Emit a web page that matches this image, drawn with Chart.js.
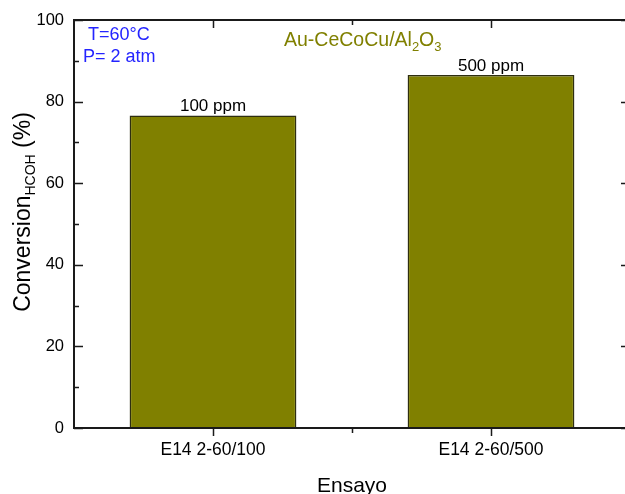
<!DOCTYPE html>
<html>
<head>
<meta charset="utf-8">
<script src="https://cdn.jsdelivr.net/npm/chart.js@4.4.1/dist/chart.umd.min.js"></script>
<style>
  html, body { margin: 0; padding: 0; background: #fff; overflow: hidden; }
  #wrap { width: 625px; height: 494px; overflow: hidden; position: relative; }
  canvas { display: block; }
</style>
</head>
<body>
<div id="wrap"><canvas id="c" width="640" height="494"></canvas></div>
<script>
// Data
const categories = ['E14 2-60/100', 'E14 2-60/500'];
const conversion = [76.6, 86.5];
const barLabels = ['100 ppm', '500 ppm'];
const yMajorTicks = [0, 20, 40, 60, 80, 100];
const yMinorTicks = [10, 30, 50, 70, 90];

const FONT = '"Liberation Sans", Arial, Helvetica, sans-serif';
const OLIVE = '#808000';
const BLUE = '#2424ff';
const AXIS = '#1a1a1a';

// Draws a run of text pieces (normal / subscript) starting at x,y (baseline)
function drawRuns(ctx, runs, x, y) {
  let cx = x;
  for (const r of runs) {
    ctx.font = r.size + 'px ' + FONT;
    ctx.fillText(r.text, cx, y + (r.dy || 0));
    cx += ctx.measureText(r.text).width;
  }
  return cx;
}
function runsWidth(ctx, runs) {
  let w = 0;
  for (const r of runs) {
    ctx.font = r.size + 'px ' + FONT;
    w += ctx.measureText(r.text).width;
  }
  return w;
}

const framePlugin = {
  id: 'frame',
  afterDraw(chart) {
    const { ctx, chartArea: a, scales } = chart;
    const xs = scales.x, ys = scales.y;
    ctx.save();

    // axis frame
    ctx.strokeStyle = AXIS;
    ctx.lineWidth = 2;
    ctx.beginPath();
    ctx.moveTo(a.left, a.top); ctx.lineTo(a.right, a.top);
    ctx.moveTo(a.left, a.bottom); ctx.lineTo(a.right, a.bottom);
    ctx.moveTo(a.left, a.top - 1); ctx.lineTo(a.left, a.bottom + 1);
    ctx.moveTo(a.right, a.top - 1); ctx.lineTo(a.right, a.bottom + 1);
    ctx.stroke();

    // y ticks, inward on both sides
    ctx.lineWidth = 1.5;
    ctx.beginPath();
    for (const v of yMajorTicks) {
      const py = Math.round(ys.getPixelForValue(v)) + 0.5;
      ctx.moveTo(a.left, py); ctx.lineTo(a.left + 9, py);
      ctx.moveTo(a.right, py); ctx.lineTo(a.right - 9, py);
    }
    for (const v of yMinorTicks) {
      const py = Math.round(ys.getPixelForValue(v)) + 0.5;
      ctx.moveTo(a.left, py); ctx.lineTo(a.left + 5, py);
      ctx.moveTo(a.right, py); ctx.lineTo(a.right - 5, py);
    }
    // x ticks: outward at bottom, inward at top
    const centers = categories.map((_, i) => xs.getPixelForValue(i));
    const bounds = [];
    for (let i = 0; i < centers.length - 1; i++) bounds.push((centers[i] + centers[i + 1]) / 2);
    for (const cx of centers) {
      const px = Math.round(cx) + 0.5;
      ctx.moveTo(px, a.bottom); ctx.lineTo(px, a.bottom + 8);
      ctx.moveTo(px, a.top); ctx.lineTo(px, a.top + 8);
    }
    for (const bx of bounds) {
      const px = Math.round(bx) + 0.5;
      ctx.moveTo(px, a.bottom); ctx.lineTo(px, a.bottom + 5);
      ctx.moveTo(px, a.top); ctx.lineTo(px, a.top + 5);
    }
    ctx.stroke();

    // value labels above the bars
    ctx.fillStyle = '#000';
    ctx.textAlign = 'center';
    ctx.textBaseline = 'alphabetic';
    ctx.font = '17px ' + FONT;
    chart.getDatasetMeta(0).data.forEach((bar, i) => {
      ctx.fillText(barLabels[i], bar.x, bar.y - 4);
    });

    // x axis title
    ctx.font = '21px ' + FONT;
    ctx.fillText('Ensayo', (a.left + a.right) / 2, 492);

    // y axis title with subscript, rotated
    ctx.textAlign = 'left';
    const yRuns = [
      { text: 'Conversion', size: 23 },
      { text: 'HCOH', size: 14, dy: 5 },
      { text: ' (%)', size: 23 }
    ];
    const w = runsWidth(ctx, yRuns);
    ctx.save();
    ctx.translate(30, 212);
    ctx.rotate(-Math.PI / 2);
    drawRuns(ctx, yRuns, -w / 2, 0);
    ctx.restore();

    // catalyst annotation
    ctx.fillStyle = OLIVE;
    drawRuns(ctx, [
      { text: 'Au-CeCoCu/Al', size: 19.5 },
      { text: '2', size: 13, dy: 5 },
      { text: 'O', size: 19.5 },
      { text: '3', size: 13, dy: 5 }
    ], 284, 46);

    // conditions
    ctx.fillStyle = BLUE;
    ctx.font = '18px ' + FONT;
    ctx.fillText('T=60°C', 88, 40);
    ctx.fillText('P= 2 atm', 83, 62);

    ctx.restore();
  }
};

new Chart(document.getElementById('c'), {
  type: 'bar',
  data: {
    labels: categories,
    datasets: [{
      data: conversion,
      backgroundColor: OLIVE,
      borderColor: '#2e2e10',
      borderWidth: 1.5,
      categoryPercentage: 1.0,
      barPercentage: 0.6
    }]
  },
  options: {
    responsive: false,
    animation: false,
    events: [],
    layout: { padding: { top: 20, right: 10, left: 0, bottom: 0 } },
    plugins: { legend: { display: false }, tooltip: { enabled: false } },
    scales: {
      x: {
        offset: true,
        grid: { display: false, drawTicks: false },
        border: { display: false },
        ticks: { color: '#000', font: { family: FONT, size: 17.5 }, padding: 12, maxRotation: 0 },
        afterFit(s) { s.height = 66; }
      },
      y: {
        min: 0, max: 100,
        grid: { display: false, drawTicks: false },
        border: { display: false },
        ticks: { stepSize: 20, color: '#000', font: { family: FONT, size: 16.5 }, padding: 10 },
        afterFit(s) { s.width = 74; }
      }
    }
  },
  plugins: [framePlugin]
});
</script>
</body>
</html>
